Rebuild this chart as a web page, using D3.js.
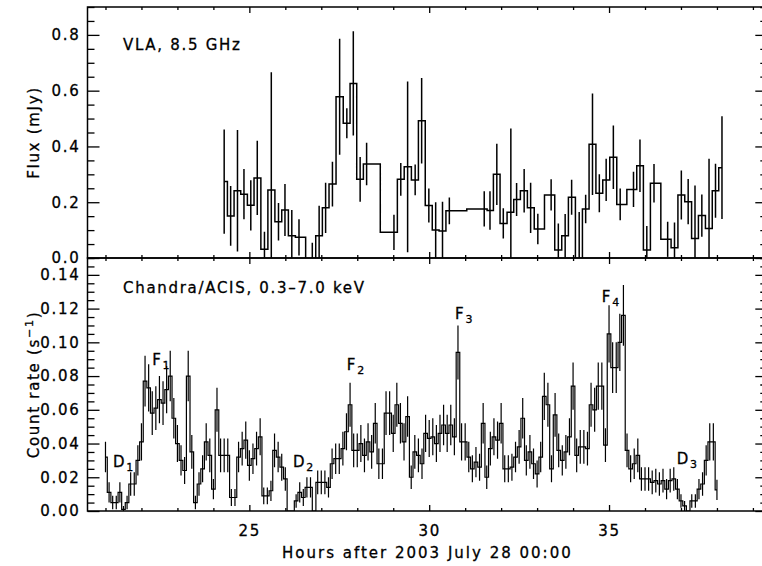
<!DOCTYPE html>
<html>
<head>
<meta charset="utf-8">
<script src="https://cdn.jsdelivr.net/npm/d3@7/dist/d3.min.js"></script>
<style>
  body { margin: 0; background: #fff; }
  svg { display: block; }
  text { font-family: "DejaVu Sans", sans-serif; fill: #000; stroke: #000; stroke-width: 0.3px; letter-spacing: 1.7px; }
</style>
</head>
<body>
<svg id="chart" width="762" height="566"></svg>
<script>
// VLA 8.5 GHz light curve: bin centres (hours after 2003 July 28 00:00), flux and 1-sigma error (mJy)
const vlaHours = [24.30, 24.48, 24.67, 24.85, 25.04, 25.22, 25.42, 25.61, 25.81, 25.99,
  26.18, 26.38, 26.75, 26.94, 27.12, 27.31, 27.51, 27.71, 27.89, 28.08,
  28.26, 29.02, 29.21, 29.40, 29.61, 29.79, 29.99, 30.18, 30.37, 30.56,
  31.53, 31.69, 31.88, 32.06, 32.27, 32.43, 32.64, 32.82, 33.02, 33.39,
  33.59, 33.78, 33.96, 34.17, 34.35, 34.54, 34.73, 34.92, 35.12, 35.31,
  35.68, 35.86, 36.05, 36.25, 36.63, 36.82, 37.01, 37.20, 37.39, 37.58,
  37.78, 37.96, 38.14];
const vlaFlux = [0.274, 0.151, 0.241, 0.229, 0.189, 0.287, 0.031, 0.244, 0.130, 0.172,
  0.080, 0.074, -0.020, 0.080, 0.180, 0.265, 0.578, 0.483, 0.626, 0.282,
  0.337, 0.092, 0.282, 0.327, 0.280, 0.492, 0.188, 0.100, 0.097, 0.169,
  0.176, 0.170, 0.300, 0.124, 0.164, 0.210, 0.241, 0.180, 0.104, 0.226,
  0.029, 0.080, 0.218, -0.020, 0.176, 0.408, 0.232, 0.280, 0.361, 0.192,
  0.246, 0.331, 0.029, 0.268, 0.067, 0.037, 0.226, 0.202, 0.070, 0.152,
  0.106, 0.241, 0.324];
const vlaErr = [0.187, 0.107, 0.218, 0.090, 0.090, 0.133, 0.063, 0.422, 0.067, 0.093,
  0.092, 0.065, 0.075, 0.107, 0.090, 0.080, 0.208, 0.054, 0.187, 0.080,
  0.076, 0.063, 0.059, 0.306, 0.055, 0.153, 0.061, 0.100, 0.105, 0.048,
  0.063, 0.069, 0.110, 0.054, 0.300, 0.059, 0.078, 0.090, 0.055, 0.056,
  0.095, 0.078, 0.063, 0.185, 0.051, 0.182, 0.068, 0.076, 0.114, 0.057,
  0.063, 0.094, 0.086, 0.069, 0.063, 0.090, 0.088, 0.081, 0.190, 0.076,
  0.250, 0.097, 0.184];

// Chandra/ACIS 0.3-7.0 keV light curve: 0.1 h bins, first bin centred at 21.0 h
const chandraStart = 21.0;
const chandraBin = 0.1;
const chandraRate = [
  0.032, 0.011, 0.005, 0.005, 0.011, 0.001, 0.005, 0.016, 0.016, 0.030,
  0.041, 0.077, 0.073, 0.058, 0.061, 0.066, 0.064, 0.072, 0.080, 0.055,
  0.040, 0.030, 0.024, 0.080, 0.035, 0.005, 0.016, 0.025, 0.041, 0.033,
  0.013, 0.060, 0.033, 0.033, 0.033, 0.008, 0.008, 0.032, 0.037, 0.042,
  0.027, 0.031, 0.037, 0.044, 0.009, 0.009, 0.012, 0.036, 0.032, 0.026,
  0.019, 0.000, 0.000, 0.006, 0.011, 0.008, 0.014, 0.014, 0.000, 0.017,
  0.017, 0.017, 0.014, 0.028, 0.031, 0.031, 0.037, 0.047, 0.063, 0.036,
  0.036, 0.040, 0.033, 0.041, 0.035, 0.052, 0.028, 0.028, 0.058, 0.058,
  0.046, 0.063, 0.052, 0.041, 0.056, 0.020, 0.035, 0.033, 0.028, 0.046,
  0.043, 0.044, 0.040, 0.046, 0.051, 0.046, 0.051, 0.044, 0.094, 0.041,
  0.041, 0.032, 0.025, 0.029, 0.026, 0.052, 0.020, 0.037, 0.044, 0.042,
  0.052, 0.025, 0.025, 0.026, 0.032, 0.038, 0.055, 0.030, 0.035, 0.028,
  0.022, 0.032, 0.068, 0.063, 0.025, 0.057, 0.036, 0.030, 0.035, 0.044,
  0.074, 0.033, 0.038, 0.038, 0.037, 0.063, 0.060, 0.074, 0.074, 0.039,
  0.105, 0.085, 0.085, 0.100, 0.116, 0.036, 0.025, 0.028, 0.033, 0.019,
  0.019, 0.019, 0.017, 0.018, 0.016, 0.018, 0.013, 0.018, 0.019, 0.013,
  0.006, 0.003, 0.000, 0.006, 0.006, 0.013, 0.016, 0.030, 0.041, 0.041,
  0.0125];
const chandraErr = [
  0.009, 0.006, 0.004, 0.004, 0.006, 0.002, 0.004, 0.007, 0.007, 0.009,
  0.011, 0.015, 0.014, 0.013, 0.013, 0.014, 0.013, 0.014, 0.015, 0.012,
  0.011, 0.009, 0.008, 0.015, 0.010, 0.004, 0.007, 0.008, 0.011, 0.010,
  0.006, 0.013, 0.010, 0.010, 0.010, 0.005, 0.005, 0.009, 0.010, 0.011,
  0.009, 0.009, 0.010, 0.011, 0.005, 0.005, 0.006, 0.010, 0.009, 0.008,
  0.007, 0.000, 0.000, 0.004, 0.006, 0.005, 0.006, 0.006, 0.000, 0.007,
  0.007, 0.007, 0.006, 0.009, 0.009, 0.009, 0.010, 0.011, 0.013, 0.010,
  0.010, 0.011, 0.010, 0.011, 0.010, 0.012, 0.009, 0.009, 0.013, 0.013,
  0.011, 0.013, 0.012, 0.011, 0.012, 0.007, 0.010, 0.010, 0.009, 0.011,
  0.011, 0.011, 0.011, 0.011, 0.012, 0.011, 0.012, 0.011, 0.016, 0.011,
  0.011, 0.009, 0.008, 0.009, 0.008, 0.012, 0.007, 0.010, 0.011, 0.011,
  0.012, 0.008, 0.008, 0.008, 0.009, 0.010, 0.012, 0.009, 0.010, 0.009,
  0.008, 0.009, 0.014, 0.013, 0.008, 0.013, 0.010, 0.009, 0.010, 0.011,
  0.014, 0.010, 0.010, 0.010, 0.010, 0.013, 0.013, 0.014, 0.014, 0.010,
  0.017, 0.015, 0.015, 0.017, 0.018, 0.010, 0.008, 0.009, 0.010, 0.007,
  0.007, 0.007, 0.007, 0.007, 0.007, 0.007, 0.006, 0.007, 0.007, 0.006,
  0.004, 0.003, 0.000, 0.004, 0.004, 0.006, 0.007, 0.009, 0.011, 0.011,
  0.006];

// Flare (F) and dip (D) markers: hour and rate of the label's lower-left corner
const markNames = ['F', 'F', 'F', 'F', 'D', 'D', 'D'];
const markSubs = ['1', '2', '3', '4', '1', '2', '3'];
const markHours = [22.30, 27.71, 30.72, 34.80, 21.21, 26.21, 36.88];
const markRates = [0.0866, 0.0836, 0.1137, 0.1237, 0.0263, 0.0263, 0.0279];

// Tick values
const hourTicks = [25, 30, 35];
const fluxTicks = [0.0, 0.2, 0.4, 0.6, 0.8];
const rateTicks = [0.00, 0.02, 0.04, 0.06, 0.08, 0.10, 0.12, 0.14];

const svg = d3.select('#chart');

// Layout (two stacked panels sharing the x axis)
const left = 87.5, right = 767.3;
const topPanel = { top: 7, bottom: 258 };
const botPanel = { top: 258, bottom: 511 };

const x = d3.scaleLinear().domain([20.5, 39.4]).range([left, right]);
const yFlux = d3.scaleLinear().domain([0, 0.9]).range([topPanel.bottom, topPanel.top]);
const yRate = d3.scaleLinear().domain([0, 0.15]).range([botPanel.bottom, botPanel.top]);

const vlaData = vlaHours.map((h, i) => ({ h, v: vlaFlux[i], e: vlaErr[i] }));
const chandraData = chandraRate.map((v, i) => ({ h: chandraStart + i * chandraBin, v, e: chandraErr[i] }));

// Clip paths so error bars stop at the panel frame
const defs = svg.append('defs');
[['clipTop', topPanel], ['clipBot', botPanel]].forEach(([id, p]) => {
  defs.append('clipPath').attr('id', id)
    .append('rect')
    .attr('x', left).attr('y', p.top)
    .attr('width', right - left).attr('height', p.bottom - p.top);
});

/**
 * Histogram-style light curve with vertical error bars
 */
function drawLightCurve(data, y, clipId, width) {
  const g = svg.append('g').attr('clip-path', `url(#${clipId})`);

  const line = d3.line()
    .x(d => x(d.h))
    .y(d => y(d.v))
    .curve(d3.curveStep);

  g.append('path')
    .datum(data)
    .attr('fill', 'none')
    .attr('stroke', '#000')
    .attr('stroke-width', width)
    .attr('d', line);

  g.selectAll('line.err')
    .data(data.filter(d => d.e > 0))
    .join('line')
    .attr('class', 'err')
    .attr('x1', d => x(d.h))
    .attr('x2', d => x(d.h))
    .attr('y1', d => y(d.v - d.e))
    .attr('y2', d => y(d.v + d.e))
    .attr('stroke', '#000')
    .attr('stroke-width', width);
}

drawLightCurve(vlaData, yFlux, 'clipTop', 1.5);
drawLightCurve(chandraData, yRate, 'clipBot', 1.2);

// Axes: ticks point inward on all four sides
function styleAxis(g) {
  g.select('.domain').remove();
  g.selectAll('.tick line').attr('stroke', '#000').attr('stroke-width', 1.3);
  g.attr('font-family', null).attr('font-size', 15);
}

function xAxes(panel, withLabels) {
  const minor = x.ticks(19).filter(d => !hourTicks.includes(d));
  // bottom edge
  svg.append('g').attr('transform', `translate(0,${panel.bottom})`)
    .call(d3.axisBottom(x).tickValues(minor).tickSize(-3).tickFormat(''))
    .call(styleAxis);
  svg.append('g').attr('transform', `translate(0,${panel.bottom})`)
    .call(d3.axisBottom(x).tickValues(hourTicks).tickSize(-6).tickPadding(14)
      .tickFormat(withLabels ? d3.format('d') : ''))
    .call(styleAxis);
  // top edge
  svg.append('g').attr('transform', `translate(0,${panel.top})`)
    .call(d3.axisTop(x).tickValues(minor).tickSize(-3).tickFormat(''))
    .call(styleAxis);
  svg.append('g').attr('transform', `translate(0,${panel.top})`)
    .call(d3.axisTop(x).tickValues(hourTicks).tickSize(-6).tickFormat(''))
    .call(styleAxis);
}

function yAxes(y, majors, minorCount, fmt) {
  const minor = y.ticks(minorCount).filter(d => !majors.some(m => Math.abs(m - d) < 1e-9));
  svg.append('g').attr('transform', `translate(${left},0)`)
    .call(d3.axisLeft(y).tickValues(minor).tickSize(-7).tickFormat(''))
    .call(styleAxis);
  svg.append('g').attr('transform', `translate(${left},0)`)
    .call(d3.axisLeft(y).tickValues(majors).tickSize(-12).tickPadding(7).tickFormat(d3.format(fmt)))
    .call(styleAxis);
  svg.append('g').attr('transform', `translate(${right},0)`)
    .call(d3.axisRight(y).tickValues(minor).tickSize(-7).tickFormat(''))
    .call(styleAxis);
  svg.append('g').attr('transform', `translate(${right},0)`)
    .call(d3.axisRight(y).tickValues(majors).tickSize(-12).tickFormat(''))
    .call(styleAxis);
}

xAxes(topPanel, false);
xAxes(botPanel, true);
yAxes(yFlux, fluxTicks, 18, '.1f');
yAxes(yRate, rateTicks, 30, '.2f');

// Panel frames
[topPanel, botPanel].forEach(p => {
  svg.append('rect')
    .attr('x', left).attr('y', p.top)
    .attr('width', right - left).attr('height', p.bottom - p.top)
    .attr('fill', 'none')
    .attr('stroke', '#000')
    .attr('stroke-width', 1.5);
});

// Panel captions
svg.append('text').attr('x', 123).attr('y', 50).attr('font-size', 15).text('VLA, 8.5 GHz');
svg.append('text').attr('x', 123).attr('y', 293).attr('font-size', 15).text('Chandra/ACIS, 0.3\u20137.0 keV');

// Flare / dip labels with subscripts
markNames.forEach((name, i) => {
  const t = svg.append('text')
    .attr('x', x(markHours[i]))
    .attr('y', yRate(markRates[i]))
    .attr('font-size', 15);
  t.append('tspan').text(name);
  t.append('tspan').attr('dy', 4).attr('font-size', 11).text(markSubs[i]);
});

// Axis titles
svg.append('text')
  .attr('x', (left + right) / 2)
  .attr('y', 558)
  .attr('text-anchor', 'middle')
  .attr('font-size', 15)
  .style('letter-spacing', '2px')
  .text('Hours after 2003 July 28 00:00');

svg.append('text')
  .attr('transform', `translate(39,${(topPanel.top + topPanel.bottom) / 2}) rotate(-90)`)
  .attr('text-anchor', 'middle')
  .attr('font-size', 15)
  .text('Flux (mJy)');

const rateTitle = svg.append('text')
  .attr('transform', `translate(39,${(botPanel.top + botPanel.bottom) / 2}) rotate(-90)`)
  .attr('text-anchor', 'middle')
  .attr('font-size', 15);
rateTitle.append('tspan').text('Count rate (s');
rateTitle.append('tspan').attr('dy', -6).attr('font-size', 11).text('\u22121');
rateTitle.append('tspan').attr('dy', 6).text(')');
</script>
</body>
</html>
